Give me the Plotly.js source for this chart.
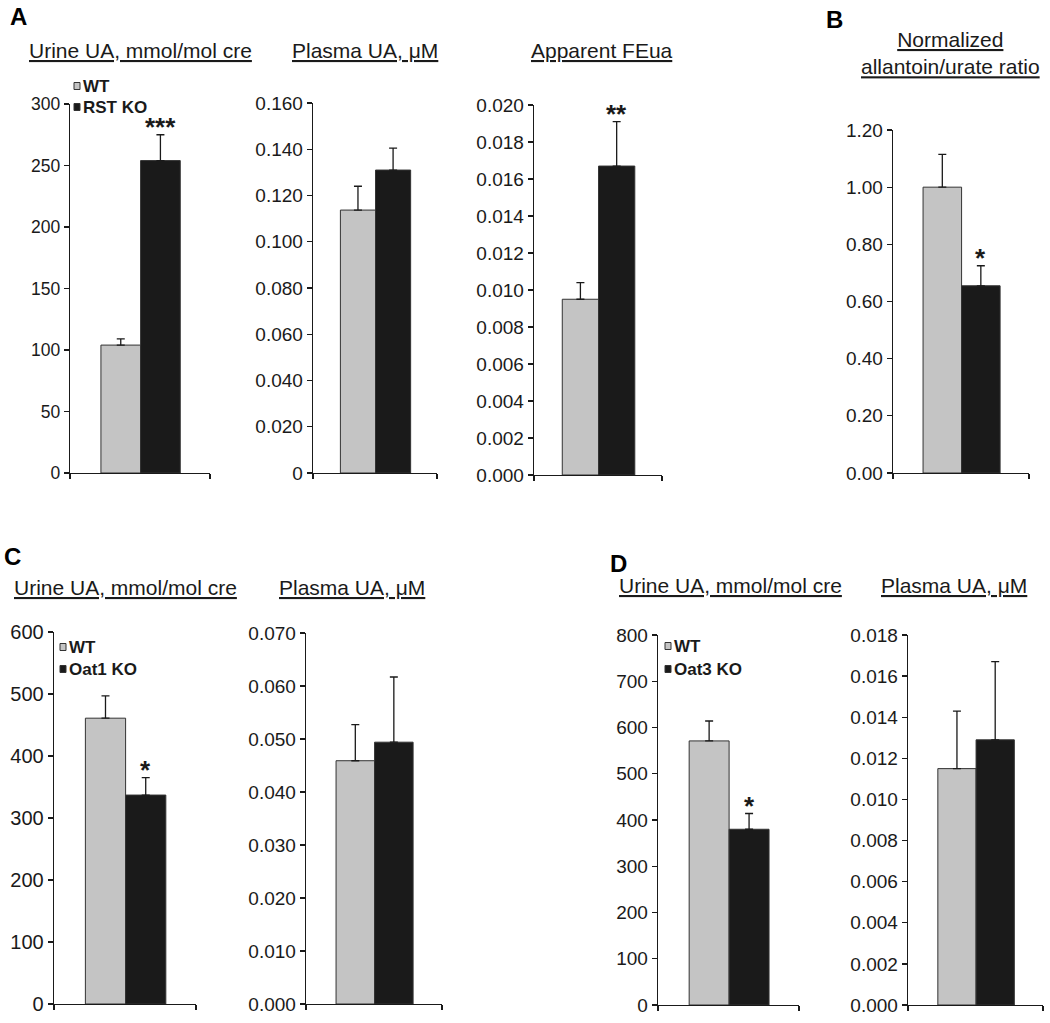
<!DOCTYPE html>
<html>
<head>
<meta charset="utf-8">
<script src="https://cdn.plot.ly/plotly-3.0.1.min.js"></script>
<style>html,body{margin:0;padding:0;background:#fff}</style>
</head>
<body>
<div id="chart" style="width:1050px;height:1023px"></div>
<script>
// groups: wild type and knockout
const groups = ['WT', 'KO'];
const groupColors = ['#c4c4c4', '#1a1a1a'];

// panel A
const urineA = [104, 254];
const urineAErr = [5, 21];
const plasmaA = [0.1137, 0.131];
const plasmaAErr = [0.0103, 0.0095];
const feA = [0.0095, 0.0167];
const feAErr = [0.0009, 0.0024];
// panel B
const ratioB = [1.00, 0.655];
const ratioBErr = [0.115, 0.07];
// panel C
const urineC = [461, 337];
const urineCErr = [36, 28];
const plasmaC = [0.0459, 0.0494];
const plasmaCErr = [0.0068, 0.0123];
// panel D
const urineD = [571, 380];
const urineDErr = [43, 34];
const plasmaD = [0.0115, 0.0129];
const plasmaDErr = [0.0028, 0.0038];

const starsA1 = ['', '***'];
const starsA3 = ['', '**'];
const starsB = ['', '*'];
const starsC1 = ['', '*'];
const starsD1 = ['', '*'];
const noStars = ['', ''];

const W = 1050, H = 1023;
const px = x => x / W;
const py = y => 1 - y / H;

// box = [left, right, top, zero] in pixels
const panels = [
  {vals: urineA, errs: urineAErr, stars: starsA1, box: [70, 210, 104, 473], ymax: 300, dtick: 50, dec: 0, zero: '0', fs: 17.5},
  {vals: plasmaA, errs: plasmaAErr, stars: noStars, box: [313, 437, 103, 473], ymax: 0.16, dtick: 0.02, dec: 3, zero: '0', fs: 19},
  {vals: feA, errs: feAErr, stars: starsA3, box: [534, 662, 105, 475], ymax: 0.02, dtick: 0.002, dec: 3, zero: '0.000', fs: 19},
  {vals: ratioB, errs: ratioBErr, stars: starsB, box: [893, 1029, 130, 473], ymax: 1.2, dtick: 0.2, dec: 2, zero: '0.00', fs: 19},
  {vals: urineC, errs: urineCErr, stars: starsC1, box: [54, 196, 632, 1004], ymax: 600, dtick: 100, dec: 0, zero: '0', fs: 20},
  {vals: plasmaC, errs: plasmaCErr, stars: noStars, box: [306, 442, 633, 1004], ymax: 0.07, dtick: 0.01, dec: 3, zero: '0.000', fs: 19},
  {vals: urineD, errs: urineDErr, stars: starsD1, box: [658, 799, 635, 1005], ymax: 800, dtick: 100, dec: 0, zero: '0', fs: 19},
  {vals: plasmaD, errs: plasmaDErr, stars: noStars, box: [908, 1043, 635, 1005], ymax: 0.018, dtick: 0.002, dec: 3, zero: '0.000', fs: 19}
];

const titles = [
  ['Urine UA, mmol/mol cre', 140, 51],
  ['Plasma UA, μM', 365, 51],
  ['Apparent FEua', 602, 51],
  ['Normalized<br>allantoin/urate ratio', 950, 53],
  ['Urine UA, mmol/mol cre', 125, 587],
  ['Plasma UA, μM', 352, 587],
  ['Urine UA, mmol/mol cre', 730, 585],
  ['Plasma UA, μM', 954, 585]
];

const letters = [['A', 18, 17], ['B', 834, 20], ['C', 12, 556], ['D', 618, 563]];

// legend entries: [label, colour, square x, y centre]
const legendItems = [
  ['WT', 0, 77, 86], ['RST KO', 1, 77, 107],
  ['WT', 0, 63, 647], ['Oat1 KO', 1, 63, 669],
  ['WT', 0, 668, 646], ['Oat3 KO', 1, 668, 669]
];

const font = 'Liberation Sans, Arial, sans-serif';
const ink = '#1a1a1a';
const xr = [-1.28, 2.25];

const traces = [];
const layout = {
  width: W, height: H,
  margin: {l: 0, r: 0, t: 0, b: 0},
  paper_bgcolor: '#ffffff', plot_bgcolor: '#ffffff',
  showlegend: false,
  bargap: 0,
  font: {family: font, color: ink},
  annotations: [], shapes: []
};

panels.forEach((p, i) => {
  const n = i + 1;
  const sfx = n === 1 ? '' : n;
  const [l, r, t, z] = p.box;
  traces.push({
    type: 'bar', x: groups.map((g, k) => k), y: p.vals, width: 1,
    xaxis: 'x' + sfx, yaxis: 'y' + sfx,
    marker: {color: groupColors, line: {color: '#333', width: 1}},
    error_y: {type: 'data', symmetric: false, array: p.errs, arrayminus: [0, 0],
      color: ink, thickness: 1.3, width: 4},
    hoverinfo: 'y'
  });
  const tv = [], tt = [];
  const steps = Math.round(p.ymax / p.dtick);
  for (let k = 0; k <= steps; k++) {
    const v = k * p.dtick;
    tv.push(v);
    tt.push(k === 0 ? p.zero : v.toFixed(p.dec));
  }
  layout['xaxis' + sfx] = {
    domain: [px(l), px(r)], range: xr, anchor: 'y' + sfx,
    showline: true, linecolor: ink, linewidth: 1.3, showgrid: false, zeroline: false,
    tickmode: 'array', tickvals: xr, ticks: 'outside', ticklen: 5, tickwidth: 1.3, tickcolor: ink,
    showticklabels: false, fixedrange: true
  };
  layout['yaxis' + sfx] = {
    domain: [py(z), py(t)], range: [0, p.ymax], anchor: 'x' + sfx,
    showline: true, linecolor: ink, linewidth: 1.3, showgrid: false, zeroline: false,
    tickmode: 'array', tickvals: tv, ticktext: tt, ticks: 'outside', ticklen: 5,
    tickwidth: 1.3, tickcolor: ink, tickfont: {family: font, size: p.fs, color: ink},
    fixedrange: true
  };
  p.stars.forEach((s, k) => {
    if (!s) return;
    layout.annotations.push({
      xref: 'x' + sfx, yref: 'y' + sfx,
      x: k, y: p.vals[k] + p.errs[k], text: '<b>' + s + '</b>', showarrow: false,
      yanchor: 'bottom', yshift: -9, font: {family: font, size: 26, color: ink}
    });
  });
});

titles.forEach(([txt, x, y]) => {
  layout.annotations.push({
    xref: 'paper', yref: 'paper', x: px(x), y: py(y),
    text: txt.split('<br>').map(s => '<u>' + s + '</u>').join('<br>'),
    showarrow: false, xanchor: 'center', yanchor: 'middle',
    font: {family: font, size: 21, color: ink}
  });
});

letters.forEach(([txt, x, y]) => {
  layout.annotations.push({
    xref: 'paper', yref: 'paper', x: px(x), y: py(y), text: '<b>' + txt + '</b>',
    showarrow: false, xanchor: 'center', yanchor: 'middle',
    font: {family: font, size: 24, color: '#000'}
  });
});

legendItems.forEach(([txt, c, x, y]) => {
  layout.shapes.push({
    type: 'rect', xref: 'paper', yref: 'paper',
    x0: px(x - 3), x1: px(x + 3), y0: py(y + 3.5), y1: py(y - 3.5),
    fillcolor: groupColors[c], line: {color: '#333', width: 1}
  });
  layout.annotations.push({
    xref: 'paper', yref: 'paper', x: px(x + 4), y: py(y), text: '<b>' + txt + '</b>',
    showarrow: false, xanchor: 'left', yanchor: 'middle',
    font: {family: font, size: 17, color: ink}
  });
});

Plotly.newPlot('chart', traces, layout, {staticPlot: true});
</script>
</body>
</html>
